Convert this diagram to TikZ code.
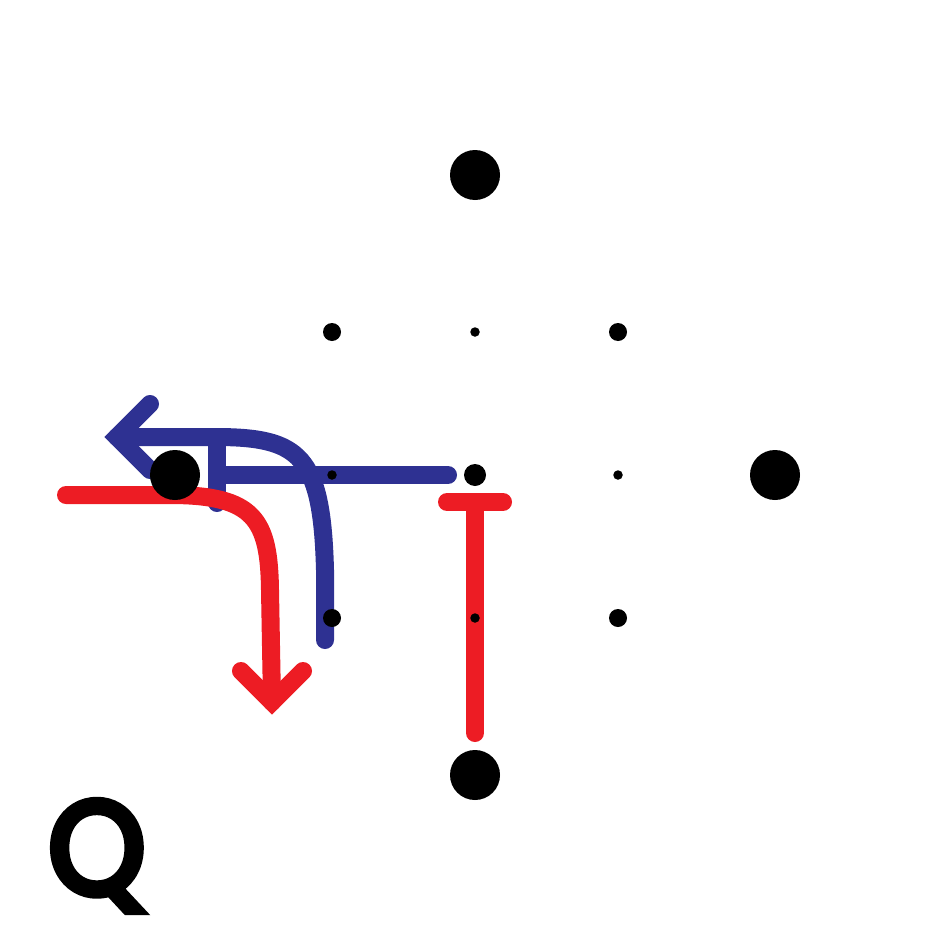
\documentclass[tikz,border=0pt]{standalone}
\usepackage{fontspec}
\newfontfamily\qfont{Poppins}[FakeBold=6,FakeStretch=0.93]
\definecolor{laneblue}{HTML}{2E3192}
\definecolor{lanered}{HTML}{ED1C24}
\begin{document}
\begin{tikzpicture}[x=1pt,y=-1pt,
  bigdot/.style={circle,fill=black,inner sep=0pt,minimum size=50pt},
  middot/.style={circle,fill=black,inner sep=0pt,minimum size=18pt},
  cendot/.style={circle,fill=black,inner sep=0pt,minimum size=22pt},
  smalldot/.style={circle,fill=black,inner sep=0pt,minimum size=9.5pt},
  lane/.style={line width=18pt,line cap=round,line join=round},
  chevron/.style={line width=18pt,line cap=round,line join=miter}]
\useasboundingbox (0,0) rectangle (950,950);
% blue left turn and stop bar
\coordinate (bs) at (325,640);
\coordinate (bv) at (325,570);
\coordinate (bh) at (215,437);
\coordinate (btip) at (117,437);
\coordinate (barmA) at (150,404);
\coordinate (barmB) at (150,470);
\draw[lane,laneblue] (bs) -- (bv) .. controls (322,455) and (300,437) .. (bh) -- (btip);
\draw[chevron,laneblue] (barmA) -- (btip) -- (barmB);
\coordinate (bbarR) at (448,475);
\coordinate (bbarL) at (217,475);
\coordinate (bcapT) at (217,440);
\coordinate (bcapB) at (217,503);
\draw[lane,laneblue] (bbarR) -- (bbarL);
\draw[lane,laneblue] (bcapT) -- (bcapB);
% red left turn
\coordinate (rs) at (66,495);
\coordinate (rh) at (170,495);
\coordinate (rv) at (270,590);
\coordinate (rtip) at (272,702);
\coordinate (rarmA) at (241,671);
\coordinate (rarmB) at (303,671);
\draw[lane,lanered] (rs) -- (rh) .. controls (255,495) and (269,520) .. (rv) -- (rtip);
\draw[chevron,lanered] (rarmA) -- (rtip) -- (rarmB);
% red T
\coordinate (tL) at (447,502);
\coordinate (tR) at (503,502);
\coordinate (tT) at (475,502);
\coordinate (tB) at (475,733);
\draw[lane,lanered] (tL) -- (tR);
\draw[lane,lanered] (tT) -- (tB);
% dots
\node[bigdot] (n) at (475,175) {};
\node[bigdot] (w) at (175,475) {};
\node[bigdot] (e) at (775,475) {};
\node[bigdot] (s) at (475,775) {};
\node[middot] (nw) at (332,332) {};
\node[middot] (ne) at (618,332) {};
\node[middot] (sw) at (332,618) {};
\node[middot] (se) at (618,618) {};
\node[cendot] (c) at (475,475) {};
\node[smalldot] (cn) at (475,332) {};
\node[smalldot] (cw) at (332,475) {};
\node[smalldot] (ce) at (618,475) {};
\node[smalldot] (cs) at (475,618) {};
% label
\node[inner sep=0pt,anchor=center] (q) at (97,856) {\qfont\fontsize{132}{132}\selectfont Q};
\end{tikzpicture}
\end{document}
